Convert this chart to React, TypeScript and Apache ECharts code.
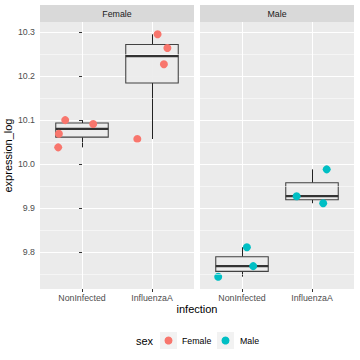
import React, { useEffect, useRef } from "react";
import * as echarts from "echarts";

// ---- data ----
const panels = ["Female", "Male"];
const categories = ["NonInfected", "InfluenzaA"];

const femaleNonInfected = [10.038, 10.069, 10.091, 10.1];
const femaleNonInfectedJitter = [-0.34, -0.33, 0.16, -0.24];
const femaleInfluenzaA = [10.057, 10.227, 10.264, 10.295];
const femaleInfluenzaAJitter = [-0.21, 0.17, 0.22, 0.08];
const maleNonInfected = [9.744, 9.768, 9.811];
const maleNonInfectedJitter = [-0.34, 0.16, 0.07];
const maleInfluenzaA = [9.911, 9.927, 9.988];
const maleInfluenzaAJitter = [0.16, -0.22, 0.21];

const yBreaks = [9.8, 9.9, 10.0, 10.1, 10.2, 10.3];
const yMinorBreaks = [9.75, 9.85, 9.95, 10.05, 10.15, 10.25];
const yLimits = [9.716, 10.323];
const xLimits = [-0.6, 1.6];
const xBreaks = [0, 1];

const sexColors: Record<string, string> = { Female: "#F8766D", Male: "#00BFC4" };

const panelValues: Record<string, number[][]> = {
  Female: [femaleNonInfected, femaleInfluenzaA],
  Male: [maleNonInfected, maleInfluenzaA],
};
const panelJitter: Record<string, number[][]> = {
  Female: [femaleNonInfectedJitter, femaleInfluenzaAJitter],
  Male: [maleNonInfectedJitter, maleInfluenzaAJitter],
};

function quantile(sorted: number[], p: number) {
  const h = (sorted.length - 1) * p;
  const lo = Math.floor(h);
  const hi = Math.ceil(h);
  return sorted[lo] + (h - lo) * (sorted[hi] - sorted[lo]);
}

function boxStats(values: number[]) {
  const s = [...values].sort((a, b) => a - b);
  const q1 = quantile(s, 0.25);
  const med = quantile(s, 0.5);
  const q3 = quantile(s, 0.75);
  const iqr = q3 - q1;
  const inside = s.filter((v) => v >= q1 - 1.5 * iqr && v <= q3 + 1.5 * iqr);
  return [inside[0], q1, med, q3, inside[inside.length - 1]];
}

const FONT = "'Liberation Sans', Arial, Helvetica, sans-serif";

export default function App() {
  const ref = useRef<HTMLDivElement>(null);

  useEffect(() => {
    if (!ref.current) return;
    const chart = echarts.init(ref.current, undefined, { renderer: "svg" });

    const gridLefts = [40, 200];
    const grids = gridLefts.map((left) => ({
      left,
      top: 22,
      width: 154,
      height: 267,
      show: true,
      backgroundColor: "#EBEBEB",
      borderWidth: 0,
    }));

    const xAxes = panels.map((_, i) => ({
      type: "value",
      gridIndex: i,
      min: xLimits[0],
      max: xLimits[1],
      axisLine: { show: false },
      axisTick: {
        show: true,
        customValues: xBreaks,
        length: 3,
        lineStyle: { color: "#333333", width: 1 },
      },
      axisLabel: {
        customValues: xBreaks,
        formatter: (v: number) => categories[Math.round(v)] ?? "",
        color: "#4D4D4D",
        fontSize: 8.8,
        fontFamily: FONT,
        margin: 4,
      },
      splitLine: { show: true, lineStyle: { color: "#FFFFFF", width: 1.07 } },
    }));

    const yAxes = panels.map((_, i) => ({
      type: "value",
      gridIndex: i,
      min: yLimits[0],
      max: yLimits[1],
      axisLine: { show: false },
      axisTick: {
        show: i === 0,
        customValues: yBreaks,
        length: 3,
        lineStyle: { color: "#333333", width: 1 },
      },
      axisLabel: {
        show: i === 0,
        customValues: yBreaks,
        formatter: (v: number) => v.toFixed(1),
        color: "#4D4D4D",
        fontSize: 8.8,
        fontFamily: FONT,
        margin: 5,
      },
      splitLine: { show: true, lineStyle: { color: "#FFFFFF", width: 1.07 } },
      ...(i === 0
        ? {
            name: "expression_log",
            nameLocation: "middle",
            nameGap: 25,
            nameTextStyle: { color: "#000000", fontSize: 11, fontFamily: FONT },
          }
        : {}),
    }));

    const series: any[] = [];
    panels.forEach((p, i) => {
      // minor gridlines
      series.push({
        type: "line",
        xAxisIndex: i,
        yAxisIndex: i,
        data: [],
        silent: true,
        z: 1,
        markLine: {
          silent: true,
          symbol: ["none", "none"],
          label: { show: false },
          lineStyle: { color: "#FFFFFF", width: 0.53, type: "solid" },
          data: yMinorBreaks.map((v) => ({ yAxis: v })),
        },
      });
      // boxplots
      series.push({
        type: "custom",
        xAxisIndex: i,
        yAxisIndex: i,
        z: 2,
        silent: true,
        encode: { x: 0, y: [1, 2, 3, 4, 5] },
        data: panelValues[p].map((vals, ci) => [ci, ...boxStats(vals)]),
        renderItem: (params: any, api: any) => {
          const x = api.value(0);
          const pLo = api.coord([x, api.value(1)]);
          const pQ1 = api.coord([x, api.value(2)]);
          const pMed = api.coord([x, api.value(3)]);
          const pQ3 = api.coord([x, api.value(4)]);
          const pHi = api.coord([x, api.value(5)]);
          const halfW = api.size([0.75, 0])[0] / 2;
          const cx = pMed[0];
          const wx = Math.round(cx) + 0.5;
          const stroke = "#333333";
          return {
            type: "group",
            children: [
              {
                type: "line",
                shape: { x1: wx, y1: pHi[1], x2: wx, y2: pQ3[1] },
                style: { stroke: "#222222", lineWidth: 1 },
              },
              {
                type: "line",
                shape: { x1: wx, y1: pQ1[1], x2: wx, y2: pLo[1] },
                style: { stroke: "#222222", lineWidth: 1 },
              },
              {
                type: "rect",
                shape: { x: cx - halfW, y: pQ3[1], width: halfW * 2, height: pQ1[1] - pQ3[1] },
                style: { fill: "#EBEBEB", stroke, lineWidth: 1.07, opacity: 0.92 },
              },
              {
                type: "line",
                shape: { x1: cx - halfW, y1: pMed[1], x2: cx + halfW, y2: pMed[1] },
                style: { stroke, lineWidth: 2.13 },
              },
            ],
          };
        },
      });
      // jittered points
      series.push({
        type: "scatter",
        name: p,
        xAxisIndex: i,
        yAxisIndex: i,
        z: 3,
        symbolSize: 8,
        itemStyle: { color: sexColors[p], opacity: 1 },
        data: panelValues[p].flatMap((vals, ci) =>
          vals.map((v, k) => [ci + panelJitter[p][ci][k], v])
        ),
      });
    });

    const stripElems = panels.flatMap((p, i) => [
      {
        type: "rect",
        shape: { x: gridLefts[i], y: 5, width: 154, height: 17 },
        style: { fill: "#D9D9D9" },
        silent: true,
      },
      {
        type: "text",
        x: gridLefts[i] + 77,
        y: 13.5,
        style: {
          text: p,
          fill: "#1A1A1A",
          fontSize: 8.8,
          fontFamily: FONT,
          align: "center",
          verticalAlign: "middle",
        },
        silent: true,
      },
    ]);

    const legendKeyX = [160, 217];
    const legendTextX = [182, 240];
    const legendElems = panels.flatMap((p, i) => [
      {
        type: "rect",
        shape: { x: legendKeyX[i], y: 332, width: 17, height: 17 },
        style: { fill: "#F2F2F2" },
        silent: true,
      },
      {
        type: "circle",
        shape: { cx: legendKeyX[i] + 8.5, cy: 340.5, r: 4 },
        style: { fill: sexColors[p] },
        silent: true,
      },
      {
        type: "text",
        x: legendTextX[i],
        y: 340.5,
        style: {
          text: p,
          fill: "#000000",
          fontSize: 8.8,
          fontFamily: FONT,
          align: "left",
          verticalAlign: "middle",
        },
        silent: true,
      },
    ]);

    chart.setOption({
      animation: false,
      backgroundColor: "#FFFFFF",
      grid: grids,
      xAxis: xAxes,
      yAxis: yAxes,
      series,
      graphic: [
        ...stripElems,
        {
          type: "text",
          x: 197,
          y: 309,
          style: {
            text: "infection",
            fill: "#000000",
            fontSize: 11,
            fontFamily: FONT,
            align: "center",
            verticalAlign: "middle",
          },
          silent: true,
        },
        {
          type: "text",
          x: 136,
          y: 340.5,
          style: {
            text: "sex",
            fill: "#000000",
            fontSize: 11,
            fontFamily: FONT,
            align: "left",
            verticalAlign: "middle",
          },
          silent: true,
        },
        ...legendElems,
      ],
    });

    return () => chart.dispose();
  }, []);

  return <div ref={ref} style={{ width: 360, height: 360, position: "absolute", left: 0, top: 0 }} />;
}
